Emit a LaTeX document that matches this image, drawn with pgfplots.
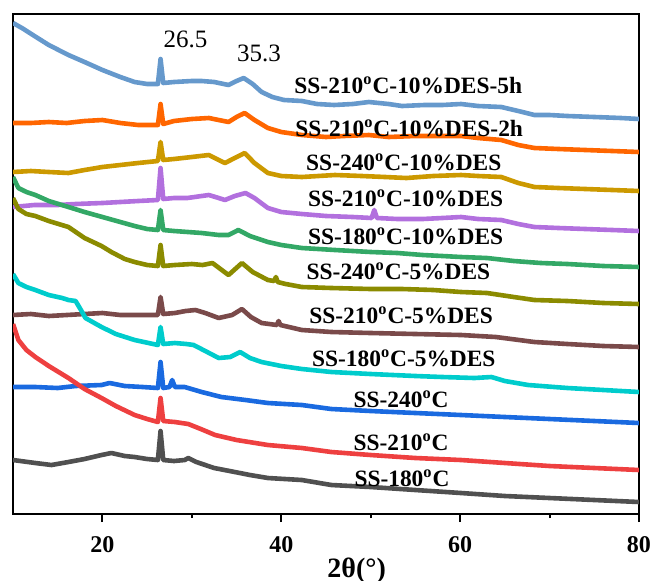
\documentclass[border=0pt]{standalone}
\usepackage{fontspec}
\setmainfont{Liberation Serif}
\usepackage{pgfplots}
\pgfplotsset{compat=1.18}

\definecolor{cA}{RGB}{102,153,204}
\definecolor{cB}{RGB}{255,102,0}
\definecolor{cC}{RGB}{204,153,0}
\definecolor{cD}{RGB}{178,112,222}
\definecolor{cE}{RGB}{51,168,102}
\definecolor{cF}{RGB}{139,139,0}
\definecolor{cG}{RGB}{122,74,74}
\definecolor{cH}{RGB}{0,204,204}
\definecolor{cI}{RGB}{26,106,224}
\definecolor{cJ}{RGB}{238,64,64}
\definecolor{cK}{RGB}{80,80,80}

\newcommand{\lab}{\bfseries\fontsize{11.7}{14}\selectfont}

\begin{document}
\begin{tikzpicture}
\begin{axis}[
    at={(0,0)}, anchor=south west,
    width=313pt, height=250pt, scale only axis,
    xmin=10, xmax=80, ymin=0, ymax=500,
    xtick={20,40,60,80}, minor xtick={30,50,70},
    xtick pos=bottom, tick align=outside,
    major tick length=4pt, minor tick length=2pt,
    ytick=\empty,
    axis line style={line width=1pt},
    every tick/.style={line width=1pt, black},
    /pgf/number format/assume math mode=true,
    xticklabel style={font=\bfseries\fontsize{12}{14}\selectfont, anchor=north, yshift=-3.5pt},
    xlabel={2θ(°)},
    xlabel style={font=\bfseries\fontsize{14}{16}\selectfont,
        at={(axis description cs:0.549,0)}, anchor=base, yshift=-31.5pt},
    every axis plot/.append style={line width=2.3pt, line join=round, no markers},
]
% SS-210C-10%DES-5h
\addplot[cA] coordinates {(10,491)(11,486)(12.4,478)(14,469)(16.2,459)(18,452)(20,444)(22,437)(23.6,432)(25,430)(26.2,430)(26.5,455)(26.8,431)(28,432)(30,433)(31.1,433)(32.5,432)(34.1,429)(35,433)(35.8,436)(36.8,430)(37.8,422)(39,417)(40.3,414)(42.3,413)(44,410)(45.9,409)(48,410)(49.8,412)(52,410)(53.5,408)(56,409)(58,409)(60.1,410)(62,408)(64.6,407)(66.5,403)(68.3,399)(70,399)(72,398)(75,397)(78,396)(80,395)};
% SS-210C-10%DES-2h
\addplot[cB] coordinates {(10,391)(12,391)(14,392)(16,391)(18,393)(20,394)(22,391)(24,389)(26.2,389)(26.5,410)(26.8,390)(28,393)(30,395)(31.9,396)(33,394)(34.1,392)(35,397)(35.9,401)(37,394)(38.5,386)(40,382)(42.3,379)(45,377)(47,378)(49.8,379)(52,377)(55,378)(58,378)(60.1,378)(62,376)(64.6,374)(66.5,369)(68.3,366)(71,365)(74,364)(77,363)(80,362)};
% SS-240C-10%DES
\addplot[cC] coordinates {(10,342)(12,343)(14,342)(16.2,341)(18,344)(20,347)(22,349)(24,351)(26.2,353)(26.5,372)(26.8,354)(28,355)(30,357)(31.9,359)(33,354)(33.7,351)(34.8,356)(35.9,361)(37,351)(38.5,341)(40,338)(42.3,337)(46,339)(49,338)(51.6,337)(54,336)(57,338)(60.1,339)(62,338)(64.6,337)(66.5,331)(68.3,327)(71,326)(74,325)(77,324)(80,323)};
% SS-210C-10%DES
\addplot[cD] coordinates {(10,307)(12.4,309)(15,309)(17,310)(20,311)(22,312)(24,313)(26.2,314)(26.5,346)(26.8,315)(28,316)(29.5,316)(31.9,319)(33,316)(33.7,314)(34.8,318)(36,321)(37,316)(38.5,306)(40,302)(42.3,300)(45,298)(48,297)(50.1,296)(50.4,304)(50.7,296)(53,295)(55.8,295)(58,296)(60.1,297)(62,295)(64.6,294)(66.5,290)(68.3,287)(71,286)(74,285)(77,284)(80,283)};
% SS-180C-10%DES
\addplot[cE] coordinates {(10,337)(10.6,326)(11.5,322)(12.5,319)(14,313)(16.2,307)(18,302)(20,297)(22,292)(23.6,288)(25,285)(26.2,284)(26.5,304)(26.8,284)(28,283)(31.1,281)(33,279)(34.1,279)(35.2,284)(36.5,278)(38.5,272)(40,269)(42.3,266)(46,264)(50,262)(53,261)(55.8,259)(58,258)(60.1,257)(63,256)(66,253)(69,251)(72,250)(76,248)(80,247)};
% SS-240C-5%DES
\addplot[cF] coordinates {(10,316)(10.6,305)(11.5,300)(12.5,298)(14,293)(16.2,287)(18,276)(19.9,268)(21,262)(22.5,255)(23.6,252)(25,249)(26.2,248)(26.5,269)(26.8,248)(28.1,249)(30,250)(31.2,249)(32.3,251)(33.2,245)(34.1,239)(35.6,251)(36.8,242)(38.5,234)(39.2,233)(39.4,237)(39.6,232)(40.5,230)(42.3,227)(45.6,226)(50,225)(53.5,225)(57,224)(60.1,222)(63,221)(66,217)(68.3,214)(72,213)(76,211)(80,210)};
% SS-210C-5%DES
\addplot[cG] coordinates {(10,199)(12,200)(14,198)(16,199)(18,200)(20,201)(22,199)(24,199)(26.2,199)(26.5,217)(26.8,200)(28.1,201)(29.3,203)(30.4,204)(31.5,201)(33,196)(34.5,199)(35.6,205)(36.6,197)(37.8,191)(39.5,189)(39.7,193)(39.9,189)(42.3,184)(45.6,182)(50,181)(55,180)(60.1,179)(64,177)(68.3,172)(72,170)(76,168)(80,167)};
% SS-180C-5%DES
\addplot[cH] coordinates {(10,240)(10.6,231)(11.5,227)(12.5,224)(14,219)(15.5,216)(16.2,214)(17,213)(17.6,204)(18.1,196)(19.9,187)(21.5,180)(23.6,174)(26.2,169)(26.5,187)(26.8,170)(28.1,171)(29.4,170)(30.2,169)(31.5,163)(33,156)(34.3,157)(35.4,162)(36.5,156)(37.8,152)(40,148)(42.3,145)(45.6,142)(50,140)(55,138)(58,137)(61.6,136)(63.5,137)(65,133)(67.6,129)(72,126)(76,124)(80,122)};
% SS-240C
\addplot[cI] coordinates {(10,127)(12.5,127)(15,126)(17,128)(19.9,129)(20.8,131)(22.5,128)(24.5,127)(26.2,126)(26.5,152)(26.8,126)(27.5,127)(27.8,134)(28.1,127)(29.2,127)(31.1,122)(33.3,117)(36,114)(38.5,111)(42.3,109)(45.6,105)(50,103)(55,101)(60.1,99)(65,97)(70,95)(75,93)(80,91)};
% SS-210C
\addplot[cJ] coordinates {(10,190)(10.6,174)(11.5,164)(12.5,157)(14,148)(16.2,136)(18,125)(19.9,116)(21.5,108)(23.6,99)(25,95)(26.2,92)(26.5,116)(26.8,93)(28.1,92)(29.6,90)(31,85)(32.6,79)(35,74)(38.5,69)(42.3,66)(45.6,62)(50,59)(55,56)(60.1,54)(65,51)(70,48)(75,46)(80,44)};
% SS-180C
\addplot[cK] coordinates {(10,54)(12.5,51)(14.3,49)(16.2,52)(18,55)(19.9,59)(21,61)(22.5,58)(23.6,57)(25,55)(26.2,54)(26.5,83)(26.8,54)(28,53)(29.2,54)(29.6,56)(30.5,52)(32.5,46)(34.8,42)(36.5,39)(38.5,36)(42.3,34)(45.6,29)(50,27)(55,24)(60.1,21)(65,18)(70,16)(75,14)(80,12)};

\node[font=\fontsize{12.5}{14}\selectfont] at (axis cs:29.3,475) {26.5};
\node[font=\fontsize{12.5}{14}\selectfont] at (axis cs:37.5,461) {35.3};

\node[font=\lab] at (axis cs:54.2,429) {SS-210\textsuperscript{o}C-10\%DES-5h};
\node[font=\lab] at (axis cs:54.3,386) {SS-210\textsuperscript{o}C-10\%DES-2h};
\node[font=\lab] at (axis cs:53.7,352) {SS-240\textsuperscript{o}C-10\%DES};
\node[font=\lab] at (axis cs:53.9,316) {SS-210\textsuperscript{o}C-10\%DES};
\node[font=\lab] at (axis cs:53.9,278) {SS-180\textsuperscript{o}C-10\%DES};
\node[font=\lab] at (axis cs:53.1,243) {SS-240\textsuperscript{o}C-5\%DES};
\node[font=\lab] at (axis cs:53.4,199) {SS-210\textsuperscript{o}C-5\%DES};
\node[font=\lab] at (axis cs:53.7,156) {SS-180\textsuperscript{o}C-5\%DES};
\node[font=\lab] at (axis cs:53.4,115) {SS-240\textsuperscript{o}C};
\node[font=\lab] at (axis cs:53.4,72) {SS-210\textsuperscript{o}C};
\node[font=\lab] at (axis cs:53.5,36) {SS-180\textsuperscript{o}C};
\end{axis}
\pgfresetboundingbox
\path[use as bounding box] (-6.5pt,-33pt) rectangle (319pt,257pt);
\end{tikzpicture}
\end{document}
